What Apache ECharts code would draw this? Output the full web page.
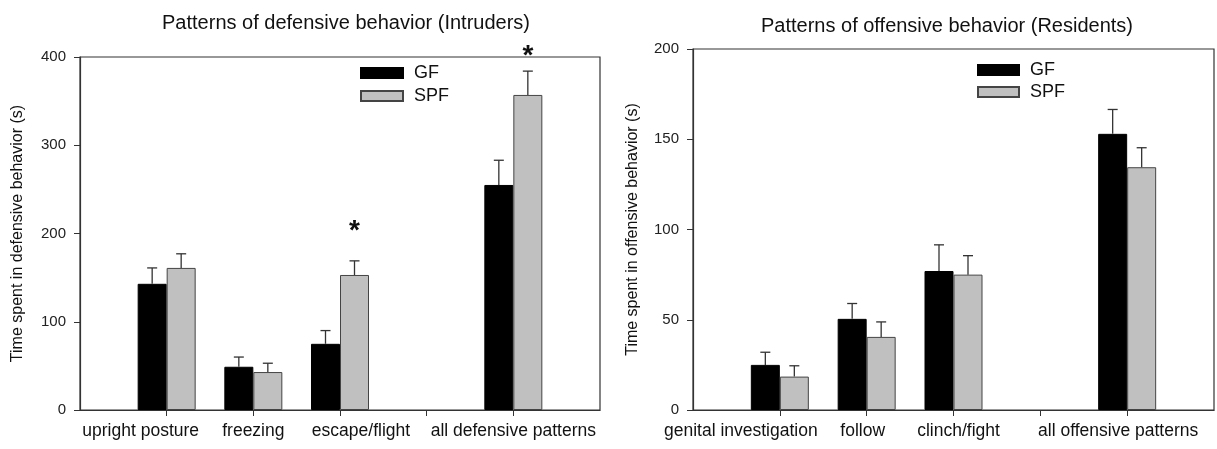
<!DOCTYPE html>
<html>
<head>
<meta charset="utf-8">
<script src="https://cdn.jsdelivr.net/npm/echarts@6/dist/echarts.min.js"></script>
<style>html,body{margin:0;padding:0;background:#fff}#c{width:1217px;height:449px}</style>
</head>
<body>
<div id="c"></div>
<script>
// ---- data ----
var leftCategories = ['', 'upright posture', 'freezing', 'escape/flight', '', 'all defensive patterns', ''];
var leftGF      = [null, 143, 49, 75, null, 255, null];
var leftGFSem   = [null, 18, 11, 15, null, 28, null];
var leftSPF     = [null, 161, 43, 153, null, 357, null];
var leftSPFSem  = [null, 16, 10, 16, null, 27, null];
var leftStars   = [null, null, null, 202, null, 401, null];
var leftTicks   = [0, 100, 200, 300, 400];

var rightCategories = ['', 'genital investigation', 'follow', 'clinch/fight', '', 'all offensive patterns', ''];
var rightGF      = [null, 25, 50.5, 77, null, 153, null];
var rightGFSem   = [null, 7, 8.5, 14.5, null, 13.5, null];
var rightSPF     = [null, 18.5, 40.5, 75, null, 134.5, null];
var rightSPFSem  = [null, 6, 8.3, 10.5, null, 10.8, null];
var rightTicks   = [0, 50, 100, 150, 200];

var seriesNames = ['GF', 'SPF'];

// ---- styling ----
var FONT = '"Liberation Sans", Arial, sans-serif';
var BAR_W = 29;
var leftLabelShift  = [0, -26, 0, 21, 0, 0, 0];
var rightLabelShift = [0, -39, -4, 5, 0, -9, 0];

function richFor(shifts) {
  var r = {};
  shifts.forEach(function (s, i) {
    r['l' + i] = {
      fontSize: 17.5, fontFamily: FONT, color: '#111',
      padding: s >= 0 ? [0, 0, 0, 2 * s] : [0, -2 * s, 0, 0]
    };
  });
  return r;
}

function xAxisCfg(gridIndex, cats, shifts) {
  return {
    type: 'category', gridIndex: gridIndex, data: cats, boundaryGap: false,
    axisLine: { lineStyle: { color: '#333', width: 1.2 } },
    axisTick: { length: 6, lineStyle: { color: '#333' },
      interval: function (i) { return i > 0 && i < cats.length - 1; } },
    axisLabel: { interval: 0, margin: 12,
      formatter: function (v, i) { return v ? '{l' + i + '|' + v + '}' : ''; },
      rich: richFor(shifts) },
    splitLine: { show: false }
  };
}

function yAxisCfg(gridIndex, ticks, name, gap) {
  return {
    type: 'value', gridIndex: gridIndex,
    min: ticks[0], max: ticks[ticks.length - 1], interval: ticks[1] - ticks[0],
    name: name, nameLocation: 'middle', nameGap: gap, nameRotate: 90,
    nameTextStyle: { fontSize: 16, fontFamily: FONT, color: '#111' },
    axisLine: { show: true, lineStyle: { color: '#333', width: 1.2 } },
    axisTick: { show: true, length: 6, lineStyle: { color: '#333' } },
    axisLabel: { fontSize: 15, fontFamily: FONT, color: '#222', margin: 14 },
    splitLine: { show: false }
  };
}

function barSeries(name, xi, vals, color, border) {
  return {
    type: 'bar', name: name, xAxisIndex: xi, yAxisIndex: xi, data: vals,
    barWidth: BAR_W, barGap: '0%',
    itemStyle: { color: color, borderColor: border, borderWidth: 1 },
    emphasis: { disabled: true }, z: 2
  };
}

function errSeries(xi, vals, sems, dir) {
  var d = [];
  vals.forEach(function (v, i) { if (v != null) d.push([i, v, v + sems[i]]); });
  return {
    type: 'custom', xAxisIndex: xi, yAxisIndex: xi, data: d, z: 3, silent: true,
    renderItem: function (params, api) {
      var b = api.coord([api.value(0), api.value(1)]);
      var t = api.coord([api.value(0), api.value(2)]);
      var x = b[0] + dir * BAR_W / 2;
      var st = { stroke: '#333', lineWidth: 1.3 };
      return { type: 'group', children: [
        { type: 'line', shape: { x1: x, y1: b[1], x2: x, y2: t[1] }, style: st },
        { type: 'line', shape: { x1: x - 5, y1: t[1], x2: x + 5, y2: t[1] }, style: st }
      ]};
    }
  };
}

function starSeries(xi, stars) {
  var d = [];
  stars.forEach(function (v, i) { if (v != null) d.push([i, v]); });
  return {
    type: 'custom', xAxisIndex: xi, yAxisIndex: xi, data: d, z: 4, silent: true,
    renderItem: function (params, api) {
      var p = api.coord([api.value(0), api.value(1)]);
      return { type: 'text', x: p[0] + BAR_W / 2, y: p[1],
        style: { text: '*', fontSize: 28, fontWeight: 'bold', fontFamily: FONT,
          fill: '#111', align: 'center', verticalAlign: 'middle' } };
    }
  };
}

var chart = echarts.init(document.getElementById('c'), null, { renderer: 'canvas' });
chart.setOption({
  animation: false,
  backgroundColor: '#fff',
  title: [
    { text: 'Patterns of defensive behavior (Intruders)', left: 341, top: 8, textAlign: 'center',
      textStyle: { fontSize: 20, fontWeight: 'normal', fontFamily: FONT, color: '#111' } },
    { text: 'Patterns of offensive behavior (Residents)', left: 942, top: 11, textAlign: 'center',
      textStyle: { fontSize: 20, fontWeight: 'normal', fontFamily: FONT, color: '#111' } }
  ],
  grid: [
    { left: 80, right: 617, top: 57, bottom: 39, show: true, borderColor: '#333', borderWidth: 1.2, backgroundColor: 'transparent' },
    { left: 693, right: 3, top: 49, bottom: 39, show: true, borderColor: '#333', borderWidth: 1.2, backgroundColor: 'transparent' }
  ],
  legend: [
    { orient: 'vertical', left: 355, top: 59, itemWidth: 42, itemHeight: 10, itemGap: 5, icon: 'rect',
      data: seriesNames, selectedMode: false,
      textStyle: { fontSize: 18, fontFamily: FONT, color: '#111', padding: [0, 0, 0, 6] } },
    { orient: 'vertical', left: 972, top: 56, itemWidth: 41, itemHeight: 10, itemGap: 4, icon: 'rect',
      data: seriesNames, selectedMode: false,
      textStyle: { fontSize: 18, fontFamily: FONT, color: '#111', padding: [0, 0, 0, 6] } }
  ],
  xAxis: [
    xAxisCfg(0, leftCategories, leftLabelShift),
    xAxisCfg(1, rightCategories, rightLabelShift)
  ],
  yAxis: [
    yAxisCfg(0, leftTicks, 'Time spent in defensive behavior (s)', 54),
    yAxisCfg(1, rightTicks, 'Time spent in offensive behavior (s)', 52)
  ],
  series: [
    barSeries(seriesNames[0], 0, leftGF, '#000', '#000'),
    barSeries(seriesNames[1], 0, leftSPF, '#c0c0c0', '#444'),
    errSeries(0, leftGF, leftGFSem, -1),
    errSeries(0, leftSPF, leftSPFSem, 1),
    starSeries(0, leftStars),
    barSeries(seriesNames[0], 1, rightGF, '#000', '#000'),
    barSeries(seriesNames[1], 1, rightSPF, '#c0c0c0', '#444'),
    errSeries(1, rightGF, rightGFSem, -1),
    errSeries(1, rightSPF, rightSPFSem, 1)
  ]
});
</script>
</body>
</html>
